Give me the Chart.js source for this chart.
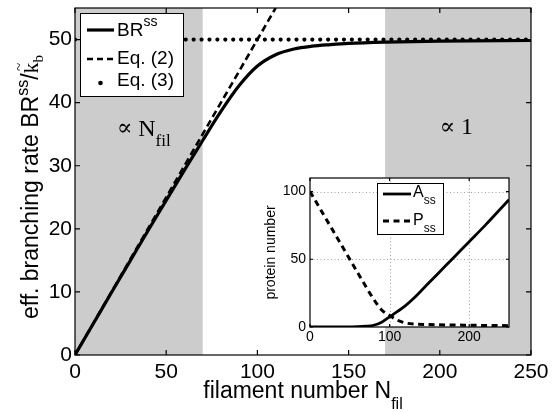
<!DOCTYPE html>
<html><head><meta charset="utf-8">
<script src="https://cdn.jsdelivr.net/npm/chart.js@4.4.0/dist/chart.umd.min.js"></script>
<style>
html,body{margin:0;padding:0;background:#fff;}
#wrap{position:relative;width:557px;height:412px;overflow:hidden;}
#main{position:absolute;left:0;top:0;}
#inset{position:absolute;left:250px;top:165px;}
</style></head><body>
<div id="wrap"><canvas id="main" width="557" height="412"></canvas><canvas id="inset" width="280" height="190"></canvas></div>
<script>
// ---- main panel data ----
const nBR  = [0, 10, 20, 30, 40, 50, 60, 70, 80, 90, 100, 110, 120, 130, 140, 150, 170, 200, 250];
const brSS = [0, 4.95, 9.9, 14.8, 19.7, 24.5, 29.3, 34.0, 38.6, 42.7, 45.8, 47.6, 48.5, 48.95, 49.2, 49.4, 49.6, 49.75, 49.85];
const nEq2 = [0, 110];
const eq2  = [0, 55];
const nEq3 = [0, 250];
const eq3  = [50, 50];
const xTicksMain = [0, 50, 100, 150, 200, 250];
const yTicksMain = [0, 10, 20, 30, 40, 50];
const shadeFrom = [0, 170];
const shadeTo   = [70, 250];
// ---- inset data ----
const nA  = [0, 40, 60, 70, 80, 90, 100, 110, 120, 130, 140, 160, 180, 200, 220, 250];
const aSS = [0, 0.1, 0.3, 0.6, 1.3, 3.5, 7.5, 11.5, 15.8, 21, 27, 39, 51, 63, 75, 94];
const nP  = [0, 20, 40, 60, 80, 90, 100, 110, 120, 130, 150, 200, 250];
const pSS = [100, 80, 60, 40, 20.5, 12.6, 8.5, 5, 3, 2.2, 1.8, 1.3, 1.0];
const xTicksInset = [0, 100, 200];
const yTicksInset = [0, 50, 100];

const SANS = "'Liberation Sans', Arial, Helvetica, sans-serif";
const SERIF = "'Liberation Serif', 'DejaVu Serif', 'Times New Roman', serif";
Chart.defaults.font.family = SANS;
Chart.defaults.color = '#000';

function pts(xs, ys){ return xs.map((x,i)=>({x:x, y:ys[i]})); }

function rich(ctx, x, y, segs, align){
  let w = 0;
  segs.forEach(s=>{ ctx.font = s.f; s.w = ctx.measureText(s.t).width; w += s.w; });
  let cx = align === 'center' ? x - w/2 : x;
  ctx.textAlign = 'left'; ctx.textBaseline = 'alphabetic';
  segs.forEach(s=>{
    ctx.font = s.f;
    ctx.fillText(s.t, cx, y + (s.dy||0));
    if (s.tilde){
      ctx.save();
      ctx.font = '15px ' + SERIF;
      ctx.textAlign = 'center';
      ctx.fillText('~', cx + s.w/2 + 1, y - 14);
      ctx.restore();
    }
    cx += s.w;
  });
}

function frameAndTicks(ctx, chart, xt, yt, len){
  const ca = chart.chartArea, sx = chart.scales.x, sy = chart.scales.y;
  ctx.save();
  ctx.strokeStyle = '#000'; ctx.lineWidth = 1.2; ctx.setLineDash([]);
  ctx.beginPath();
  xt.forEach(v=>{ const p = sx.getPixelForValue(v);
    ctx.moveTo(p, ca.bottom); ctx.lineTo(p, ca.bottom - len);
    ctx.moveTo(p, ca.top); ctx.lineTo(p, ca.top + len); });
  yt.forEach(v=>{ const p = sy.getPixelForValue(v);
    ctx.moveTo(ca.left, p); ctx.lineTo(ca.left + len, p);
    ctx.moveTo(ca.right, p); ctx.lineTo(ca.right - len, p); });
  ctx.stroke();
  ctx.strokeRect(ca.left, ca.top, ca.right - ca.left, ca.bottom - ca.top);
  ctx.restore();
}

const mainDecor = {
  id: 'mainDecor',
  beforeDatasetsDraw(chart){
    const ctx = chart.ctx, ca = chart.chartArea, sx = chart.scales.x;
    ctx.save();
    ctx.fillStyle = 'rgb(204,204,204)';
    shadeFrom.forEach((a,i)=>{
      const x0 = sx.getPixelForValue(a), x1 = sx.getPixelForValue(shadeTo[i]);
      ctx.fillRect(x0, ca.top, x1 - x0, ca.bottom - ca.top);
    });
    ctx.restore();
  },
  afterDatasetsDraw(chart){
    const ctx = chart.ctx, ca = chart.chartArea, sx = chart.scales.x, sy = chart.scales.y;
    frameAndTicks(ctx, chart, xTicksMain, yTicksMain, 5);
    ctx.save();
    ctx.fillStyle = '#000';
    // region annotations
    rich(ctx, sx.getPixelForValue(23), sy.getPixelForValue(34.7), [
      {t:'\u221D ', f:'23px ' + SERIF, dy:-1},
      {t:'N', f:'24px ' + SERIF},
      {t:'fil', f:'17px ' + SERIF, dy:10}
    ], 'left');
    rich(ctx, sx.getPixelForValue(200), sy.getPixelForValue(35.0), [
      {t:'\u221D ', f:'23px ' + SERIF, dy:0},
      {t:'1', f:'24px ' + SERIF}
    ], 'left');
    // axis titles
    rich(ctx, (ca.left + ca.right)/2, 398, [
      {t:'filament number N', f:'23px ' + SANS},
      {t:'fil', f:'16px ' + SANS, dy:11}
    ], 'center');
    ctx.save();
    ctx.translate(38, 187);
    ctx.rotate(-Math.PI/2);
    rich(ctx, 0, 0, [
      {t:'eff. branching rate BR', f:'23px ' + SANS},
      {t:'ss', f:'16px ' + SANS, dy:-10},
      {t:'/', f:'23px ' + SANS},
      {t:'k', f:'22px ' + SERIF, tilde:true},
      {t:'b', f:'15px ' + SERIF, dy:5}
    ], 'center');
    ctx.restore();
    // legend
    const bx = 80, by = 13, bw = 103, bh = 83;
    ctx.fillStyle = '#fff';
    ctx.fillRect(bx, by, bw, bh);
    ctx.strokeStyle = '#000'; ctx.lineWidth = 1;
    ctx.strokeRect(bx + 0.5, by + 0.5, bw, bh);
    ctx.lineWidth = 3.2; ctx.beginPath(); ctx.moveTo(87, 30); ctx.lineTo(114, 30); ctx.stroke();
    ctx.lineWidth = 2.6; ctx.setLineDash([6, 4]); ctx.beginPath(); ctx.moveTo(87, 59); ctx.lineTo(114, 59); ctx.stroke();
    ctx.setLineDash([]);
    ctx.fillStyle = '#000';
    ctx.beginPath(); ctx.arc(100.5, 83, 2.3, 0, Math.PI*2); ctx.fill();
    rich(ctx, 117, 36, [{t:'BR', f:'19px ' + SANS}, {t:'ss', f:'14px ' + SANS, dy:-10}], 'left');
    rich(ctx, 117, 64, [{t:'Eq. (2)', f:'19px ' + SANS}], 'left');
    rich(ctx, 117, 86, [{t:'Eq. (3)', f:'19px ' + SANS}], 'left');
    ctx.restore();
  }
};

new Chart(document.getElementById('main'), {
  type: 'line',
  data: { datasets: [
    { label:'BRss', data: pts(nBR, brSS), borderColor:'#000', borderWidth:3.2, pointRadius:0, cubicInterpolationMode:'monotone', fill:false },
    { label:'Eq. (2)', data: pts(nEq2, eq2), borderColor:'#000', borderWidth:2.6, borderDash:[7,4], pointRadius:0, fill:false },
    { label:'Eq. (3)', data: pts(nEq3, eq3), borderColor:'#000', borderWidth:4.2, borderDash:[0.01,7.9], borderCapStyle:'round', pointRadius:0, fill:false }
  ]},
  options: {
    responsive:false, animation:false,
    layout:{ padding:{ top:8, right:26, left:0, bottom:0 } },
    plugins:{ legend:{display:false}, tooltip:{enabled:false} },
    scales:{
      x:{ type:'linear', min:0, max:250,
          afterBuildTicks: s => { s.ticks = xTicksMain.map(v=>({value:v})); },
          afterFit: s => { s.height = 57; s.paddingLeft = 0; s.paddingRight = 0; },
          grid:{display:false, drawTicks:false}, border:{display:false},
          ticks:{ font:{size:21}, padding:5, maxRotation:0, autoSkip:false, color:'#000' } },
      y:{ type:'linear', min:0, max:55,
          afterBuildTicks: s => { s.ticks = yTicksMain.map(v=>({value:v})); },
          afterFit: s => { s.width = 75; s.paddingTop = 0; s.paddingBottom = 0; },
          grid:{display:false, drawTicks:false}, border:{display:false},
          ticks:{ font:{size:21}, padding:3, autoSkip:false, color:'#000' } }
    }
  },
  plugins:[mainDecor]
});

const insetDecor = {
  id: 'insetDecor',
  beforeDatasetsDraw(chart){
    const ctx = chart.ctx, ca = chart.chartArea, sx = chart.scales.x, sy = chart.scales.y;
    ctx.save();
    ctx.fillStyle = '#fff';
    ctx.fillRect(ca.left, ca.top, ca.right - ca.left, ca.bottom - ca.top);
    ctx.strokeStyle = '#a0a0a0'; ctx.lineWidth = 1; ctx.setLineDash([1, 2.5]);
    ctx.beginPath();
    xTicksInset.forEach(v=>{ if (v === 0) return; const p = Math.round(sx.getPixelForValue(v)) + 0.5; ctx.moveTo(p, ca.top); ctx.lineTo(p, ca.bottom); });
    yTicksInset.forEach(v=>{ if (v === 0) return; const p = Math.round(sy.getPixelForValue(v)) + 0.5; ctx.moveTo(ca.left, p); ctx.lineTo(ca.right, p); });
    ctx.stroke();
    ctx.restore();
  },
  afterDatasetsDraw(chart){
    const ctx = chart.ctx, ca = chart.chartArea;
    frameAndTicks(ctx, chart, xTicksInset, yTicksInset, 3);
    ctx.save();
    ctx.fillStyle = '#000';
    // y title
    ctx.save();
    ctx.translate(ca.left - 35, (ca.top + ca.bottom)/2);
    ctx.rotate(-Math.PI/2);
    rich(ctx, 0, 0, [{t:'protein number', f:'14px ' + SANS}], 'center');
    ctx.restore();
    // legend
    const bx = ca.left + 67, by = ca.top + 5, bw = 66, bh = 51;
    ctx.fillStyle = '#fff'; ctx.fillRect(bx, by, bw, bh);
    ctx.strokeStyle = '#000'; ctx.lineWidth = 1; ctx.strokeRect(bx + 0.5, by + 0.5, bw, bh);
    ctx.lineWidth = 2.8; ctx.beginPath(); ctx.moveTo(bx + 6, by + 11); ctx.lineTo(bx + 34, by + 11); ctx.stroke();
    ctx.lineWidth = 3; ctx.setLineDash([6, 4.5]); ctx.beginPath(); ctx.moveTo(bx + 6, by + 38); ctx.lineTo(bx + 34, by + 38); ctx.stroke();
    ctx.setLineDash([]);
    ctx.fillStyle = '#000';
    rich(ctx, bx + 36, by + 14, [{t:'A', f:'16px ' + SANS}, {t:'ss', f:'12px ' + SANS, dy:7}], 'left');
    rich(ctx, bx + 36, by + 42, [{t:'P', f:'16px ' + SANS}, {t:'ss', f:'12px ' + SANS, dy:7}], 'left');
    ctx.restore();
  }
};

new Chart(document.getElementById('inset'), {
  type: 'line',
  data: { datasets: [
    { label:'Ass', data: pts(nA, aSS), borderColor:'#000', borderWidth:2.8, pointRadius:0, cubicInterpolationMode:'monotone', fill:false },
    { label:'Pss', data: pts(nP, pSS), borderColor:'#000', borderWidth:3, borderDash:[6,4.5], pointRadius:0, cubicInterpolationMode:'monotone', fill:false }
  ]},
  options: {
    responsive:false, animation:false,
    layout:{ padding:{ top:13, right:21, left:0, bottom:0 } },
    plugins:{ legend:{display:false}, tooltip:{enabled:false} },
    scales:{
      x:{ type:'linear', min:0, max:250,
          afterBuildTicks: s => { s.ticks = xTicksInset.map(v=>({value:v})); },
          afterFit: s => { s.height = 28; s.paddingLeft = 0; s.paddingRight = 0; },
          grid:{display:false, drawTicks:false}, border:{display:false},
          ticks:{ font:{size:14}, padding:2, maxRotation:0, autoSkip:false, color:'#000' } },
      y:{ type:'linear', min:0, max:110,
          afterBuildTicks: s => { s.ticks = yTicksInset.map(v=>({value:v})); },
          afterFit: s => { s.width = 60; s.paddingTop = 0; s.paddingBottom = 0; },
          grid:{display:false, drawTicks:false}, border:{display:false},
          ticks:{ font:{size:14}, padding:4, autoSkip:false, color:'#000' } }
    }
  },
  plugins:[insetDecor]
});
</script>
</body></html>
